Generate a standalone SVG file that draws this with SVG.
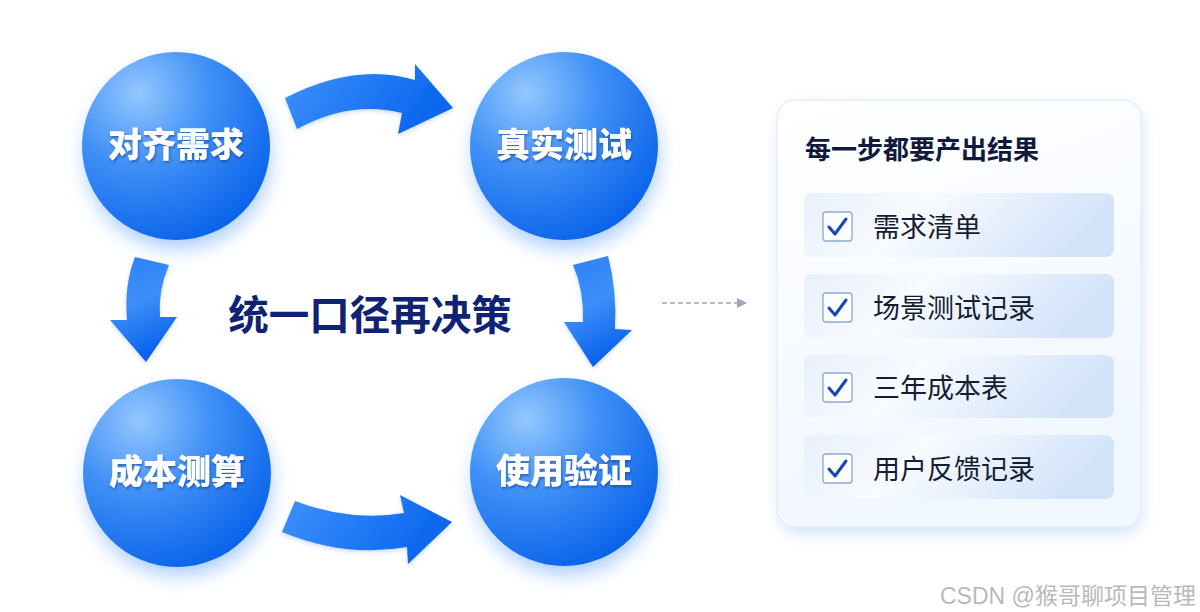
<svg xmlns="http://www.w3.org/2000/svg" width="1200" height="612" viewBox="0 0 1200 612">
<defs>
<radialGradient id="ballG" cx="30%" cy="22%" r="85%">
<stop offset="0" stop-color="#94c7ff"/>
<stop offset="0.45" stop-color="#4090f6"/>
<stop offset="1" stop-color="#0862ea"/>
</radialGradient>
<linearGradient id="arrH" x1="0" y1="0" x2="1" y2="0.3">
<stop offset="0" stop-color="#3f92fb"/>
<stop offset="1" stop-color="#0a66ee"/>
</linearGradient>
<linearGradient id="arrV" x1="0" y1="0" x2="0.3" y2="1">
<stop offset="0" stop-color="#2a80f7"/>
<stop offset="0.5" stop-color="#3d8ff8"/>
<stop offset="1" stop-color="#0a63ec"/>
</linearGradient>
<linearGradient id="panelG" x1="0" y1="0" x2="0.3" y2="1">
<stop offset="0" stop-color="#ffffff"/>
<stop offset="1" stop-color="#f1f7ff"/>
</linearGradient>
<linearGradient id="rowG" x1="0" y1="0" x2="1" y2="0.2">
<stop offset="0" stop-color="#e8f0fb"/>
<stop offset="0.4" stop-color="#f8fbff"/>
<stop offset="1" stop-color="#d2e3fa"/>
</linearGradient>
<filter id="glow" x="-40%" y="-40%" width="180%" height="180%">
<feGaussianBlur stdDeviation="10"/>
</filter>
<filter id="panelShadow" x="-20%" y="-20%" width="140%" height="140%">
<feGaussianBlur stdDeviation="8"/>
</filter>
<filter id="txtShadow" x="-20%" y="-40%" width="140%" height="180%">
<feDropShadow dx="1" dy="2" stdDeviation="1.2" flood-color="#0a3a8a" flood-opacity="0.55"/>
</filter>
<filter id="arrShadow" x="-20%" y="-20%" width="140%" height="140%">
<feDropShadow dx="0" dy="2" stdDeviation="2" flood-color="#2a6fd8" flood-opacity="0.25"/>
</filter>
<marker id="dashHead" viewBox="0 0 10 10" refX="9" refY="5" markerWidth="10" markerHeight="10" markerUnits="userSpaceOnUse" orient="auto">
<path d="M0,0 L10,5 L0,10 Z" fill="#9aa8bf"/>
</marker>
<style>
.glowC{fill:#4d97ff;opacity:0.5;filter:url(#glow)}
.ball{fill:url(#ballG)}
.ballTxt{font-family:"Noto Sans CJK SC","Noto Sans",sans-serif;font-size:34px;font-weight:900;fill:#ffffff;text-anchor:middle;filter:url(#txtShadow)}
.mid{font-family:"Noto Sans CJK SC","Noto Sans",sans-serif;font-size:40.5px;font-weight:700;fill:#0f2274;text-anchor:middle}
.title{font-family:"Noto Sans CJK SC","Noto Sans",sans-serif;font-size:26px;font-weight:700;fill:#111a3c}
.row{fill:url(#rowG)}
.item{font-family:"Noto Sans CJK SC","Noto Sans",sans-serif;font-size:27px;font-weight:400;fill:#161c33}
.box{fill:#fbfdff;stroke:#8ea9d2;stroke-width:1.3}
.tick{fill:none;stroke:#1747b6;stroke-width:3;stroke-linecap:round;stroke-linejoin:round}
.wm{font-family:"Liberation Sans","Noto Sans CJK SC",sans-serif;font-size:23px;fill:#b9b9b9}
</style>
</defs>
<rect width="1200" height="612" fill="#ffffff"/>

<g id="connectors">
<g filter="url(#arrShadow)">
<path d="M285,98 Q355,62 415,80 L415,64 L453,108 L398,134 L402,113 Q350,100 297,129 Z" fill="url(#arrH)"/>
<path d="M295,501 Q350,522 404,513 L400,495 L452,522 L408,564 L407,547 Q345,558 282,532 Z" fill="url(#arrH)"/>
<path d="M135,257 L169,265 Q158,290 160,317 L177,317 L146,362 L110,320 L127,320 Q124,285 135,257 Z" fill="url(#arrV)"/>
<path d="M573,265 L608,256 Q617,290 615,329 L632,330 L593,367 L564,322 L583,322 Q584,290 573,265 Z" fill="url(#arrV)"/>
</g>
<line x1="662" y1="303" x2="746" y2="303" stroke="#9aa8bf" stroke-width="1.5" stroke-dasharray="5,3" marker-end="url(#dashHead)"/>
</g>

<g id="node-align">
<circle class="glowC" cx="178" cy="156" r="92"/>
<circle class="ball" cx="176" cy="146" r="94"/>
<text class="ballTxt" x="176" y="157">对齐需求</text>
</g>
<g id="node-test">
<circle class="glowC" cx="566" cy="156" r="92"/>
<circle class="ball" cx="564" cy="146" r="94"/>
<text class="ballTxt" x="564" y="157">真实测试</text>
</g>
<g id="node-cost">
<circle class="glowC" cx="179" cy="483" r="92"/>
<circle class="ball" cx="177" cy="473" r="94"/>
<text class="ballTxt" x="177" y="484">成本测算</text>
</g>
<g id="node-verify">
<circle class="glowC" cx="566" cy="482" r="92"/>
<circle class="ball" cx="564" cy="472" r="94"/>
<text class="ballTxt" x="564" y="483">使用验证</text>
</g>

<g id="center-label">
<text class="mid" x="370" y="330">统一口径再决策</text>
</g>

<g id="panel">
<rect x="781" y="108" width="360" height="424" rx="18" fill="#a9c9f5" opacity="0.6" filter="url(#panelShadow)"/>
<rect x="777" y="100" width="364" height="427" rx="18" fill="url(#panelG)" stroke="#e6eefa" stroke-width="1.5"/>
<text class="title" x="805" y="159">每一步都要产出结果</text>

<g id="item-1">
<rect class="row" x="804" y="193" width="310" height="64" rx="8"/>
<rect class="box" x="823" y="212" width="29" height="29" rx="3"/>
<polyline class="tick" points="829,227 835,234 846,219"/>
<text class="item" x="873" y="237">需求清单</text>
</g>
<g id="item-2">
<rect class="row" x="804" y="274" width="310" height="64" rx="8"/>
<rect class="box" x="823" y="293" width="29" height="29" rx="3"/>
<polyline class="tick" points="829,308 835,315 846,300"/>
<text class="item" x="873" y="318">场景测试记录</text>
</g>
<g id="item-3">
<rect class="row" x="804" y="355" width="310" height="63" rx="8"/>
<rect class="box" x="823" y="373" width="29" height="29" rx="3"/>
<polyline class="tick" points="829,388 835,395 846,380"/>
<text class="item" x="873" y="398">三年成本表</text>
</g>
<g id="item-4">
<rect class="row" x="804" y="435" width="310" height="64" rx="8"/>
<rect class="box" x="823" y="454" width="29" height="29" rx="3"/>
<polyline class="tick" points="829,469 835,476 846,461"/>
<text class="item" x="873" y="479">用户反馈记录</text>
</g>
</g>

<text class="wm" x="940" y="604">CSDN @猴哥聊项目管理</text>
</svg>
